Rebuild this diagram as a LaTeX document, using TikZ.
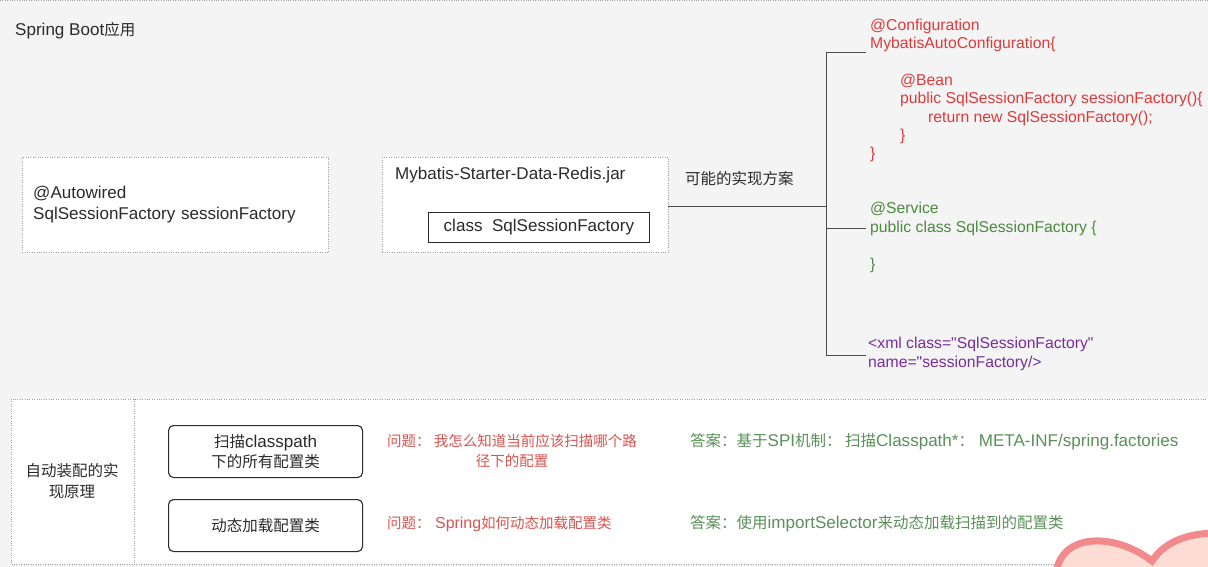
\documentclass[tikz,border=0pt]{standalone}
\usepackage{fontspec}
\setmainfont{Liberation Sans}[Scale=1.1]
\newfontfamily\cjk{Noto Sans CJK SC}
\usetikzlibrary{positioning}
\definecolor{bg}{HTML}{F4F4F4}
\definecolor{txt}{HTML}{2B2B2B}
\definecolor{cfgred}{HTML}{DE3A3C}
\definecolor{svcgreen}{HTML}{4B8B3E}
\definecolor{xmlpurple}{HTML}{772D9C}
\definecolor{askred}{HTML}{D8544E}
\definecolor{ansgreen}{HTML}{5A9158}
\definecolor{heartpink}{HTML}{F2898C}
\definecolor{heartfill}{HTML}{FDDDD3}
\newcommand{\zh}[1]{{\cjk #1}}
\newcommand{\qq}{\textquotedbl}

\tikzset{
  dotbox/.style={draw=gray!75, dotted, fill=white},
  plain/.style={anchor=west, inner sep=0pt, text=txt, font=\fontsize{15.5}{21}\selectfont},
  code/.style={anchor=base west, inner sep=0pt, align=left, font=\fontsize{14.3}{18.4}\selectfont},
  stepbox/.style={draw=txt, line width=1.1pt, rounded corners=5pt, fill=white, align=center,
    minimum width=194pt, minimum height=52pt, anchor=north west, text=txt, font=\fontsize{15.5}{20}\selectfont},
  ask/.style={anchor=west, inner sep=0pt, text=askred, align=center, font=\fontsize{14.5}{20}\selectfont},
  ans/.style={anchor=west, inner sep=0pt, text=ansgreen, font=\fontsize{15.5}{20}\selectfont},
  branch/.style={draw=txt!85, line width=1pt}
}

\begin{document}
\begin{tikzpicture}[x=1pt,y=-1pt]
\fill[bg] (0,0) rectangle (1208,567);
\useasboundingbox (0,0) rectangle (1208,567);
\draw[gray!70, dotted] (0,0.6) -- (1208,0.6);

% Spring Boot part
\node[plain] (app) at (15,31) {Spring Boot\zh{应用}};
\node[dotbox, anchor=north west, minimum width=306pt, minimum height=95pt, text width=284pt,
  inner xsep=11pt, align=left, text=txt, font=\fontsize{15.5}{21}\selectfont] (autowired) at (22,157)
  {@Autowired\\SqlSessionFactory sessionFactory};
\node[dotbox, anchor=north west, minimum width=286pt, minimum height=95pt] (jar) at (382,157) {};
\node[plain] (jarname) at (395,175) {Mybatis-Starter-Data-Redis.jar};
\node[draw=txt, fill=white, line width=0.9pt, anchor=north west, minimum width=221pt, minimum height=30pt,
  text=txt, font=\fontsize{15.5}{20}\selectfont] (cls) at (428,212) {class\ \ SqlSessionFactory};
\node[plain] (maybe) at (685,179) {\zh{可能的实现方案}};

% code variants
\node[code, text=cfgred] (cfg) at (870,159) {@Configuration\\MybatisAutoConfiguration\{\\[18.4pt]
  \hspace*{30pt}@Bean\\
  \hspace*{30pt}public SqlSessionFactory sessionFactory()\{\\
  \hspace*{58pt}return new SqlSessionFactory();\\
  \hspace*{30pt}\}\\\}};
\node[code, text=svcgreen] (svc) at (870,269) {@Service\\public class SqlSessionFactory \{\\[18.4pt]\}};
\node[code, text=xmlpurple] (xml) at (868,367) {<xml class=\qq SqlSessionFactory\qq\\name=\qq sessionFactory/>};

\coordinate (fork) at (826,206);
\coordinate (top) at (826,53);
\coordinate (mid) at (826,228);
\coordinate (bot) at (826,355);
\coordinate (cfgin) at (866,53);
\coordinate (svcin) at (866,228);
\coordinate (xmlin) at (866,355);
\draw[branch] (jar.east |- fork) -- (fork);
\draw[branch] (cfgin) -- (top) -- (bot) -- (xmlin);
\draw[branch] (mid) -- (svcin);

% auto configuration
\draw[dotbox] (11,399) rectangle (1215,564);
\draw[gray!75, dotted] (134,399) -- (134,564);
\node[text=txt, align=center, inner sep=0pt, font=\fontsize{15.5}{21}\selectfont] (principle) at (72,481)
  {\zh{自动装配的实}\\\zh{现原理}};
\node[stepbox] (scan) at (168,425) {\zh{扫描}classpath\\\zh{下的所有配置类}};
\node[stepbox] (load) at (168,499) {\zh{动态加载配置类}};
\node[ask] (ask1) at (387,451) {\zh{问题：\ 我怎么知道当前应该扫描哪个路}\\\zh{径下的配置}};
\node[ask] (ask2) at (387,524) {\zh{问题：}\ Spring\zh{如何动态加载配置类}};
\node[ans] (ans1) at (690,442) {\zh{答案：基于}SPI\zh{机制：\ 扫描}Classpath*\zh{：}\ META-INF/spring.factories};
\node[ans] (ans2) at (690,524) {\zh{答案：使用}importSelector\zh{来动态加载扫描到的配置类}};

% sticker
\draw[heartpink, line width=7pt, fill=heartfill]
  (1056,575) .. controls (1058,550) and (1078,540) .. (1100,541)
  .. controls (1122,542) and (1140,552) .. (1152,561)
  .. controls (1162,546) and (1180,534) .. (1214,533) -- (1214,575) -- cycle;
\end{tikzpicture}
\end{document}
